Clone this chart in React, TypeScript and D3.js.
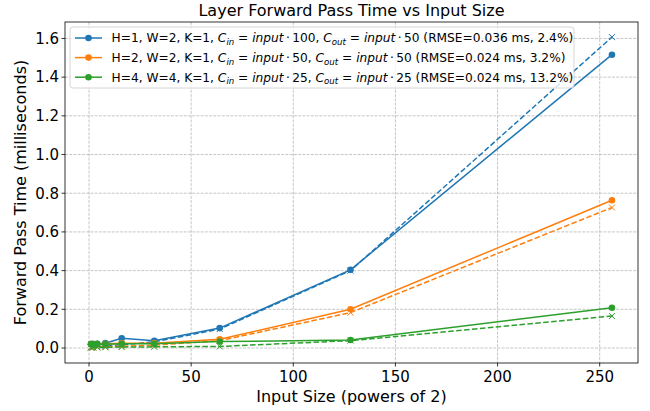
import React from "react";
import * as d3 from "d3";

const inputSizes = [1, 2, 4, 8, 16, 32, 64, 128, 256];
const blueActual = [0.02, 0.02, 0.022, 0.025, 0.05, 0.037, 0.103, 0.404, 1.516];
const bluePred = [0.003, 0.004, 0.006, 0.01, 0.017, 0.032, 0.098, 0.4, 1.607];
const orangeActual = [0.02, 0.02, 0.02, 0.022, 0.025, 0.025, 0.045, 0.2, 0.764];
const orangePred = [0.003, 0.003, 0.004, 0.006, 0.009, 0.015, 0.038, 0.183, 0.726];
const greenActual = [0.02, 0.02, 0.02, 0.02, 0.022, 0.022, 0.033, 0.041, 0.208];
const greenPred = [0.003, 0.003, 0.003, 0.004, 0.005, 0.006, 0.008, 0.038, 0.165];

const xTicks = [0, 50, 100, 150, 200, 250];
const yTicks = [0.0, 0.2, 0.4, 0.6, 0.8, 1.0, 1.2, 1.4, 1.6];

const seriesInfo = [
  { color: "#1f77b4", actual: blueActual, pred: bluePred, pre: "H=1, W=2, K=1, ", cin: "100", cout: "50", post: " (RMSE=0.036 ms, 2.4%)" },
  { color: "#ff7f0e", actual: orangeActual, pred: orangePred, pre: "H=2, W=2, K=1, ", cin: "50", cout: "50", post: " (RMSE=0.024 ms, 3.2%)" },
  { color: "#2ca02c", actual: greenActual, pred: greenPred, pre: "H=4, W=4, K=1, ", cin: "25", cout: "25", post: " (RMSE=0.024 ms, 13.2%)" },
];

const L = 65, R = 638, T = 22, B = 363;
const FONT = "DejaVu Sans, sans-serif";

export default function App() {
  const x = d3.scaleLinear().domain([-11.75, 268.75]).range([L, R]);
  const y = d3.scaleLinear().domain([-0.0775, 1.685]).range([B, T]);
  const line = (vals: number[]) =>
    d3.line<number>().x((_, i) => x(inputSizes[i])).y((v) => y(v))(vals) || "";

  const mathPart = (sub: string, num: string) => (
    <>
      <tspan fontStyle="italic">C</tspan>
      <tspan fontStyle="italic" fontSize={8.6} dy={2.5}>{sub}</tspan>
      <tspan dy={-2.5}>{" = "}</tspan>
      <tspan fontStyle="italic">input</tspan>
      <tspan>{"\u2009\u00b7\u2009"}{num}</tspan>
    </>
  );

  return (
    <svg width={650} height={411} style={{ display: "block", position: "absolute", left: 0, top: 0 }} fontFamily={FONT}>
      <rect x={0} y={0} width={650} height={411} fill="white" />
      {/* grid */}
      <g stroke="#b0b0b0" strokeOpacity={0.9} strokeWidth={0.8} strokeDasharray="2.96,1.28">
        {xTicks.map((t) => (
          <line key={"gx" + t} x1={x(t)} x2={x(t)} y1={T} y2={B} />
        ))}
        {yTicks.map((t) => (
          <line key={"gy" + t} x1={L} x2={R} y1={y(t)} y2={y(t)} />
        ))}
      </g>
      {/* series */}
      {seriesInfo.map((s, si) => (
        <g key={"s" + si}>
          <path d={line(s.actual)} fill="none" stroke={s.color} strokeWidth={1.5} />
          {s.actual.map((v, i) => (
            <circle key={"c" + i} cx={x(inputSizes[i])} cy={y(v)} r={3.3} fill={s.color} />
          ))}
          <path d={line(s.pred)} fill="none" stroke={s.color} strokeWidth={1.5} strokeDasharray="5.55,2.4" />
          {s.pred.map((v, i) => {
            const cx = x(inputSizes[i]);
            const cy = y(v);
            const d = 3;
            return (
              <g key={"x" + i} stroke={s.color} strokeWidth={1}>
                <line x1={cx - d} y1={cy - d} x2={cx + d} y2={cy + d} />
                <line x1={cx - d} y1={cy + d} x2={cx + d} y2={cy - d} />
              </g>
            );
          })}
        </g>
      ))}
      {/* spines */}
      <rect x={L} y={T} width={R - L} height={B - T} fill="none" stroke="black" strokeWidth={0.8} />
      {/* ticks */}
      {xTicks.map((t) => (
        <g key={"tx" + t}>
          <line x1={x(t)} x2={x(t)} y1={B} y2={B + 3.5} stroke="black" strokeWidth={0.8} />
          <text x={x(t)} y={B + 19} textAnchor="middle" fontSize={15} fill="black">{t}</text>
        </g>
      ))}
      {yTicks.map((t) => (
        <g key={"ty" + t}>
          <line x1={L - 3.5} x2={L} y1={y(t)} y2={y(t)} stroke="black" strokeWidth={0.8} />
          <text x={L - 6} y={y(t) + 5.3} textAnchor="end" fontSize={15} fill="black">{t.toFixed(1)}</text>
        </g>
      ))}
      {/* labels */}
      <text x={(L + R) / 2} y={16} textAnchor="middle" fontSize={16} fill="black">Layer Forward Pass Time vs Input Size</text>
      <text x={(L + R) / 2} y={402} textAnchor="middle" fontSize={16} fill="black">Input Size (powers of 2)</text>
      <text transform={`translate(26,${(T + B) / 2}) rotate(-90)`} textAnchor="middle" fontSize={16} fill="black">Forward Pass Time (milliseconds)</text>
      {/* legend */}
      <rect x={70} y={27} width={504} height={61} rx={3} fill="white" fillOpacity={0.8} stroke="#cccccc" strokeWidth={0.8} />
      {seriesInfo.map((s, si) => {
        const cy = 38 + si * 19.6;
        return (
          <g key={"lg" + si}>
            <line x1={75} x2={102} y1={cy} y2={cy} stroke={s.color} strokeWidth={1.5} />
            <circle cx={88.5} cy={cy} r={3.3} fill={s.color} />
            <text x={111.5} y={cy + 4.4} fontSize={12.2} fill="black">
              <tspan>{s.pre}</tspan>
              {mathPart("in", s.cin)}
              <tspan>{", "}</tspan>
              {mathPart("out", s.cout)}
              <tspan>{s.post}</tspan>
            </text>
          </g>
        );
      })}
    </svg>
  );
}
